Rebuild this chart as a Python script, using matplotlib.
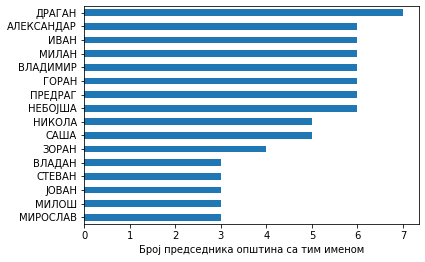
import matplotlib
matplotlib.use("Agg")
import matplotlib.pyplot as plt

names = ["ДРАГАН", "АЛЕКСАНДАР", "ИВАН", "МИЛАН", "ВЛАДИМИР", "ГОРАН", "ПРЕДРАГ",
         "НЕБОЈША", "НИКОЛА", "САША", "ЗОРАН", "ВЛАДАН", "СТЕВАН", "ЈОВАН", "МИЛОШ", "МИРОСЛАВ"]
counts = [7, 6, 6, 6, 6, 6, 6, 6, 5, 5, 4, 3, 3, 3, 3, 3]
xlabel = "Број председника општина са тим именом"

fig = plt.figure(figsize=(425/72, 262/72), dpi=72)
ax = fig.add_axes([84/425, 1 - 224/262, (419-84)/425, (224-6)/262])
ypos = list(range(len(names)))[::-1]
ax.barh(ypos, counts, height=0.5, color="#1f77b4")
ax.set_yticks(ypos)
ax.set_yticklabels(names)
ax.set_ylim(-0.5, len(names) - 0.5)
ax.set_xlim(0, 7.35)
ax.set_xlabel(xlabel)
fig.savefig("out.png", dpi=72)
